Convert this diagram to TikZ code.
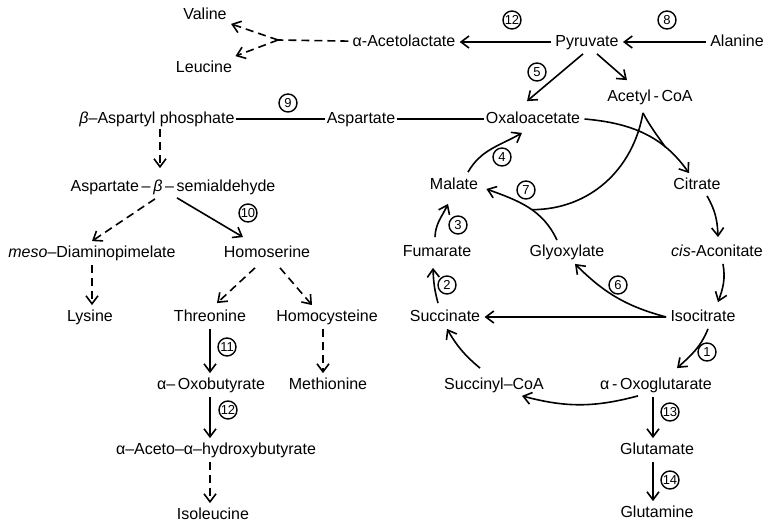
\documentclass[tikz,border=0pt]{standalone}
\usepackage{fontspec}
\setmainfont{Liberation Sans}
\usetikzlibrary{arrows.meta, calc}

\begin{document}
\begin{tikzpicture}[
    x=0.5pt, y=-0.5pt,
    metNode/.style={inner sep=2pt, font=\fontsize{8}{9}\selectfont, text height=6pt, text depth=1.5pt},
    enzNode/.style={circle, draw, line width=0.7pt, inner sep=0pt, minimum size=9pt, font=\fontsize{6.5}{7}\selectfont},
    oneRel/.style={-{Straight Barb[length=4pt, width=6pt]}, line width=0.8pt},
    multiRel/.style={oneRel, dash pattern=on 4pt off 2.5pt},
    plainRel/.style={line width=0.8pt}
]
    \useasboundingbox (0,0) rectangle (768,524);

    % Pyruvate row
    \node[metNode] (val)  at (205,15)  {Valine};
    \node[metNode] (leu)  at (204,68)  {Leucine};
    \node[metNode] (acl)  at (404,42)  {α-Acetolactate};
    \node[metNode] (pyr)  at (587,42)  {Pyruvate};
    \node[metNode] (ala)  at (737,42)  {Alanine};
    \node[metNode] (acoa) at (650,97)  {Acetyl\,-\,CoA};
    \coordinate (brPt) at (278,40);

    % Aspartate family
    \node[metNode] (bap) at (157,119) {{\itshape β}–Aspartyl phosphate};
    \node[metNode] (asp) at (361,119) {Aspartate};
    \node[metNode] (oaa) at (533,119) {Oxaloacetate};
    \node[metNode] (asa) at (173,187) {Aspartate\,–\,{\itshape β}\,–\,semialdehyde};
    \node[metNode] (dap) at (92,253)  {\textit{meso}–Diaminopimelate};
    \node[metNode] (hse) at (267,253) {Homoserine};
    \node[metNode] (lys) at (90,317)  {Lysine};
    \node[metNode] (thr) at (210,317) {Threonine};
    \node[metNode] (hcy) at (327,317) {Homocysteine};
    \node[metNode] (obu) at (211,385) {α–\,Oxobutyrate};
    \node[metNode] (met) at (328,385) {Methionine};
    \node[metNode] (aah) at (216,450) {α–Aceto–α–hydroxybutyrate};
    \node[metNode] (ile) at (213,515) {Isoleucine};

    % Cycle
    \node[metNode] (mal)  at (454,185) {Malate};
    \node[metNode] (cit)  at (697,185) {Citrate};
    \node[metNode] (fum)  at (437,252) {Fumarate};
    \node[metNode] (gly)  at (567,252) {Glyoxylate};
    \node[metNode] (cac)  at (717,252) {\textit{cis}-Aconitate};
    \node[metNode] (suc)  at (445,317) {Succinate};
    \node[metNode] (ict)  at (703,317) {Isocitrate};
    \node[metNode] (scoa) at (494,385) {Succinyl–CoA};
    \node[metNode] (akg)  at (656,385) {α\,-\,Oxoglutarate};
    \node[metNode] (glu)  at (657,450) {Glutamate};
    \node[metNode] (gln)  at (657,513) {Glutamine};

    % Circled step numbers
    \node[enzNode] (n12a) at (512,20)  {12};
    \node[enzNode] (n8)   at (667,20)  {8};
    \node[enzNode] (n5)   at (537,72)  {5};
    \node[enzNode] (n9)   at (288,103) {9};
    \node[enzNode] (n4)   at (502,157) {4};
    \node[enzNode] (n7)   at (526,190) {7};
    \node[enzNode] (n3)   at (458,225) {3};
    \node[enzNode] (n10)  at (248,213) {10};
    \node[enzNode] (n2)   at (447,285) {2};
    \node[enzNode] (n6)   at (618,285) {6};
    \node[enzNode] (n11)  at (227,347) {11};
    \node[enzNode] (n1)   at (707,352) {1};
    \node[enzNode] (n12b) at (228,410) {12};
    \node[enzNode] (n13)  at (670,412) {13};
    \node[enzNode] (n14)  at (670,480) {14};

    % Pyruvate branch
    \draw[oneRel] (pyr) -- (acl);
    \draw[oneRel] (ala) -- (pyr);
    \draw[plainRel, dash pattern=on 4pt off 2.5pt] (acl) -- (brPt);
    \draw[multiRel] (brPt) -- (val);
    \draw[multiRel] (brPt) -- (leu);
    \draw[oneRel] ($(pyr.south)+(-4,0)$) -- ($(oaa.north)+(-6,-6)$);
    \draw[oneRel] ($(pyr.south)+(10,0)$) -- ($(acoa.north)+(-23,-5)$);

    % Aspartate branch
    \draw[plainRel, shorten <=-1.5pt, shorten >=-1.5pt] (bap) -- (asp);
    \draw[plainRel, shorten <=-1.5pt, shorten >=-1.5pt] (asp) -- (oaa);
    \draw[multiRel] ($(bap.south)+(3,-2)$) -- ($(asa.north)+(-13,-7)$);
    \draw[multiRel] ($(asa.south)+(-18,0)$) -- (dap.north);
    \draw[oneRel] ($(asa.south)+(4,-1)$) -- ($(hse.north)+(-24,-4)$);
    \draw[multiRel] (dap.south) -- (dap.south |- lys.north);
    \draw[multiRel] ($(hse.south)+(-12,3)$) -- ($(thr.north)+(7,-2)$);
    \draw[multiRel] ($(hse.south)+(13,3)$) -- ($(hcy.north)+(-15,0)$);
    \draw[oneRel] (thr.south) -- (thr.south |- obu.north);
    \draw[multiRel] ([xshift=-2pt]hcy.south) -- ([xshift=-2pt]hcy.south |- met.north);
    \draw[oneRel] ([xshift=-0.5pt]obu.south) -- ([xshift=-0.5pt]obu.south |- aah.north);
    \draw[multiRel] ([xshift=-3pt]aah.south) -- ([xshift=-3pt]aah.south |- ile.north);

    % Cycle and glyoxylate shunt
    \draw[oneRel] (oaa.east) to[out=-5, in=125] coordinate[pos=0.72] (citJoin) ($(cit.north)+(-8,0)$);
    \draw[oneRel] ($(gly.north)+(-10,0)$) to[out=115, in=-20] coordinate[pos=0.45] (glyJoin) ($(mal.east)+(4,4)$);
    \coordinate (acApex) at ($(acoa.south)+(-7,4)$);
    \draw[plainRel] (acApex) to[out=-100, in=0] (glyJoin);
    \draw[plainRel] (acApex) to[out=-62, in=125] (citJoin);
    \draw[oneRel] ($(mal.north)+(14,-1)$) to[out=60, in=210] ($(oaa.south)+(-11,2)$);
    \draw[oneRel] ($(fum.north)+(-2,-3)$) to[out=88, in=-115] ($(mal.south)+(-6,7)$);
    \draw[oneRel] ($(suc.north)+(-7,-2)$) to[out=105, in=-88] ($(fum.south)+(-4,4)$);
    \draw[oneRel] (ict) -- (suc);
    \draw[oneRel] (ict.west) to[out=165, in=-45] ($(gly.south)+(8,0)$);
    \draw[oneRel] ($(cit.south)+(10,-1)$) to[out=-60, in=92] ($(cac.north)+(1,-3)$);
    \draw[oneRel] ($(cac.south)+(6,0)$) to[out=-80, in=70] ($(ict.north)+(15,-3)$);
    \draw[oneRel] ($(ict.south)+(5,0)$) to[out=-112, in=42] ($(akg.north)+(21,-5)$);
    \draw[oneRel] ($(akg.south)+(-18,-1)$) to[out=-165, in=-15] ($(scoa.south)+(28,-1)$);
    \draw[oneRel] ($(scoa.north)+(-14,-5)$) to[bend left=10] ($(suc.south)+(2,0)$);
    \draw[oneRel] ([xshift=-1.5pt]akg.south) -- ([xshift=-1.5pt]akg.south |- glu.north);
    \draw[oneRel] ([xshift=-2pt]glu.south) -- ([xshift=-2pt]glu.south |- gln.north);
\end{tikzpicture}
\end{document}
